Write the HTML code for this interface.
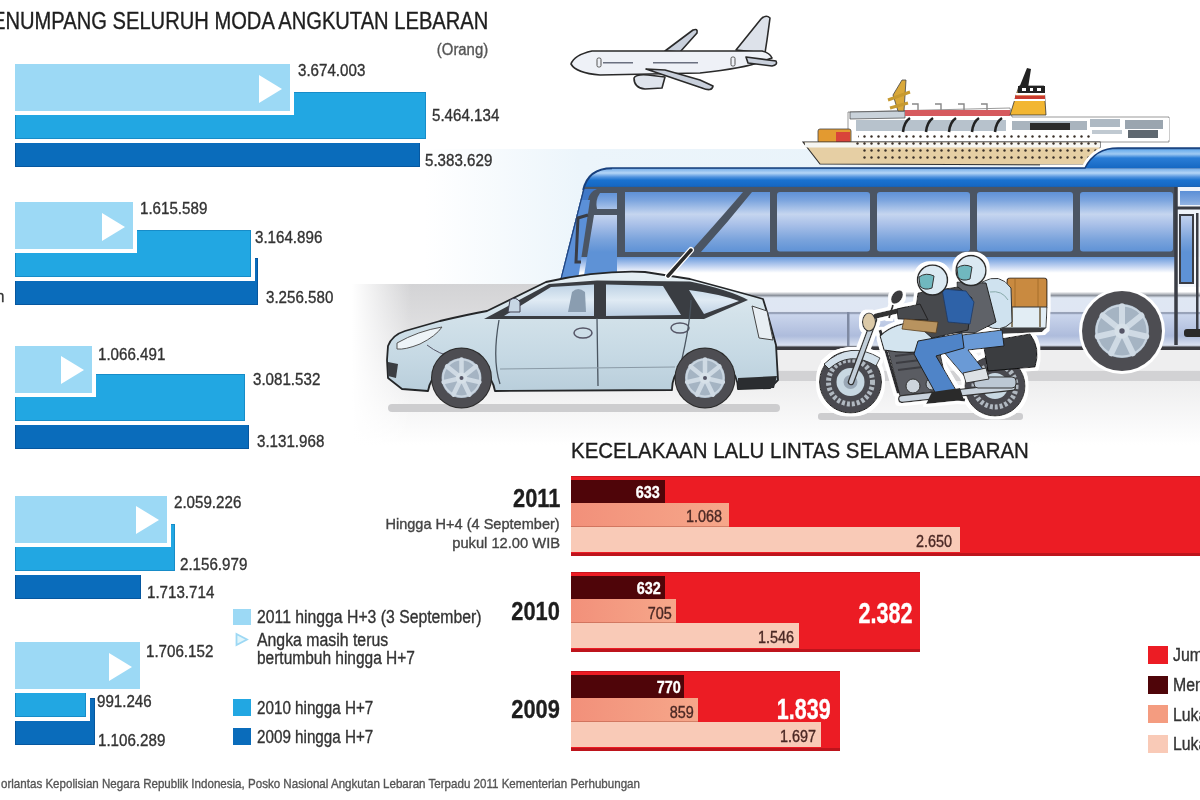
<!DOCTYPE html>
<html><head><meta charset="utf-8"><style>
html,body{margin:0;padding:0;background:#fff;width:1200px;height:800px;overflow:hidden;position:relative}
.t{position:absolute;font-family:"Liberation Sans",sans-serif;line-height:1;white-space:nowrap;-webkit-text-stroke:0.35px currentColor}
.r{position:absolute;box-sizing:content-box}
</style></head><body>
<svg style="position:absolute;left:0;top:0" width="1200" height="800" viewBox="0 0 1200 800">
<defs>
<linearGradient id="sky" x1="0" x2="1" y1="0" y2="0">
 <stop offset="0" stop-color="#ecf5fb" stop-opacity="0"/>
 <stop offset="0.2" stop-color="#ecf5fb" stop-opacity="1"/>
 <stop offset="1" stop-color="#e6f1f9"/>
</linearGradient>
<linearGradient id="roadv" gradientUnits="userSpaceOnUse" x1="0" x2="0" y1="284" y2="445">
 <stop offset="0" stop-color="#d3d3d5"/>
 <stop offset="0.5" stop-color="#e9e9ea"/>
 <stop offset="1" stop-color="#ffffff"/>
</linearGradient>
<linearGradient id="roadh" x1="0" x2="1" y1="0" y2="0">
 <stop offset="0" stop-color="#fff" stop-opacity="1"/>
 <stop offset="0.07" stop-color="#fff" stop-opacity="0"/>
</linearGradient>
<linearGradient id="roof" gradientUnits="userSpaceOnUse" x1="0" x2="0" y1="167" y2="191">
 <stop offset="0" stop-color="#17407e"/>
 <stop offset="0.09" stop-color="#7fb3ea"/>
 <stop offset="0.25" stop-color="#b5d6f7"/>
 <stop offset="0.42" stop-color="#4f92de"/>
 <stop offset="0.55" stop-color="#1a72cf"/>
 <stop offset="0.8" stop-color="#1567c2"/>
 <stop offset="0.88" stop-color="#2e4a6e"/>
 <stop offset="1" stop-color="#4b5563"/>
</linearGradient>
<linearGradient id="bump" gradientUnits="userSpaceOnUse" x1="0" x2="0" y1="148" y2="168">
 <stop offset="0" stop-color="#17407e"/>
 <stop offset="0.1" stop-color="#6fb0ee"/>
 <stop offset="0.3" stop-color="#9fcaf3"/>
 <stop offset="0.5" stop-color="#2a7dd6"/>
 <stop offset="1" stop-color="#1668c3"/>
</linearGradient>
<linearGradient id="win" gradientUnits="userSpaceOnUse" x1="0" x2="0" y1="191" y2="252">
 <stop offset="0" stop-color="#5b8fd6"/>
 <stop offset="0.15" stop-color="#7ba4de"/>
 <stop offset="0.38" stop-color="#c5d5ef"/>
 <stop offset="0.55" stop-color="#a9c0e8"/>
 <stop offset="0.8" stop-color="#7aa3dc"/>
 <stop offset="1" stop-color="#5e92d6"/>
</linearGradient>
<linearGradient id="body" gradientUnits="userSpaceOnUse" x1="0" x2="0" y1="256" y2="350">
 <stop offset="0" stop-color="#5f94da"/>
 <stop offset="0.1" stop-color="#b8cdef"/>
 <stop offset="0.18" stop-color="#ffffff"/>
 <stop offset="0.38" stop-color="#ffffff"/>
 <stop offset="0.42" stop-color="#8c929c"/>
 <stop offset="0.445" stop-color="#dfe7f3"/>
 <stop offset="0.59" stop-color="#dfe6f3"/>
 <stop offset="0.605" stop-color="#7f8aa2"/>
 <stop offset="0.625" stop-color="#cad5ec"/>
 <stop offset="0.85" stop-color="#aebcdc"/>
 <stop offset="0.95" stop-color="#d9e1f0"/>
 <stop offset="0.97" stop-color="#3b3b40"/>
 <stop offset="1" stop-color="#3b3b40"/>
</linearGradient>
<linearGradient id="carb" gradientUnits="userSpaceOnUse" x1="0" x2="0" y1="272" y2="392">
 <stop offset="0" stop-color="#e6eff4"/>
 <stop offset="0.35" stop-color="#d3e2ea"/>
 <stop offset="0.7" stop-color="#c6d9e4"/>
 <stop offset="1" stop-color="#b9cedb"/>
</linearGradient>
<linearGradient id="carw" gradientUnits="userSpaceOnUse" x1="0" x2="0" y1="282" y2="318">
 <stop offset="0" stop-color="#b8cee2"/>
 <stop offset="0.5" stop-color="#e0ebf4"/>
 <stop offset="1" stop-color="#b7cbe0"/>
</linearGradient>
<radialGradient id="rim" cx="0.5" cy="0.5" r="0.5">
 <stop offset="0" stop-color="#dfe8f0"/>
 <stop offset="1" stop-color="#b3c3d2"/>
</radialGradient>
<clipPath id="busclip"><path d="M555,300 L583,190 Q588,168 612,168 L1085,168 Q1095,148 1118,148 L1200,148 L1200,350 L555,350 Z"/></clipPath>
<filter id="wout" x="-10%" y="-10%" width="120%" height="120%">
 <feMorphology in="SourceAlpha" operator="dilate" radius="3" result="d"/>
 <feFlood flood-color="#ffffff"/>
 <feComposite in2="d" operator="in" result="w"/>
 <feMerge><feMergeNode in="w"/><feMergeNode in="SourceGraphic"/></feMerge>
</filter>
<pattern id="dots" patternUnits="userSpaceOnUse" width="7" height="7" x="0" y="0">
 <circle cx="3.5" cy="3.5" r="1.2" fill="#3a3028"/>
</pattern>
</defs>

<!-- sky band -->
<rect x="425" y="149" width="775" height="137" fill="url(#sky)"/>
<!-- road band -->
<rect x="352" y="284" width="848" height="162" fill="url(#roadv)"/>
<rect x="352" y="284" width="848" height="162" fill="url(#roadh)"/>
<rect x="770" y="350" width="430" height="20" fill="#eeeeef"/>
<rect x="770" y="371" width="430" height="10" fill="#d2d2d4"/>

<!-- PLANE -->
<g stroke="#2a2a2a" stroke-width="1.6" stroke-linejoin="round">
 <path d="M665,51 L693,30 Q698,28 697,33 L680,52 Z" fill="#c9d0dc"/>
 <path d="M736,50 L761,19 Q766,14 770,18 L767,40 L765,53 Z" fill="#dde2ea"/>
 <path d="M571,64 Q574,55 592,51 L762,51 Q770,53 772,58 L760,62 Q745,68 700,73 L600,75 Q576,73 571,64 Z" fill="#eef1f7"/>
 <path d="M746,57 L776,61 Q778,65 772,66 L748,63 Z" fill="#c9d0dc"/>
 <path d="M634,78 Q636,74 648,75 L665,77 L662,88 L645,89 Q634,88 634,78 Z" fill="#dfe4ec"/>
 <path d="M646,69 L702,88 Q712,92 713,86 L700,80 L665,70 Z" fill="#c9d0dc"/>
</g>
<g fill="#6a7080">
 <rect x="597" y="58" width="4" height="9" rx="1.5" fill="none" stroke="#555" stroke-width="1"/>
 <rect x="603" y="62" width="30" height="1.5"/>
 <rect x="653" y="62" width="45" height="1.5"/>
 <rect x="731" y="57" width="4" height="9" rx="1.5" fill="none" stroke="#555" stroke-width="1"/>
</g>

<!-- SHIP -->
<g>
 <path d="M848,112 L1010,108 L1012,117 L1169,117 L1169,142 L848,142 Z" fill="#ffffff" stroke="#555" stroke-width="0.6"/>
 <path d="M850,112 L905,111 L905,118 L850,119 Z" fill="#c9d2da" stroke="#444" stroke-width="0.7"/>
 <rect x="905" y="110" width="105" height="6" fill="#d65a5e"/>
 <path d="M912,104 l6,0 l0,6 M935,104 l6,0 l0,6 M958,104 l6,0 l0,6 M981,104 l6,0 l0,6" stroke="#888" stroke-width="1.4" fill="none"/>
 <rect x="856" y="120" width="150" height="11" fill="#b7c2cc"/>
 <rect x="1012" y="121" width="75" height="9" fill="#a9b4be"/>
 <rect x="1030" y="123" width="40" height="7" fill="#2c2c2c"/>
 <rect x="1088" y="118" width="81" height="22" fill="#ffffff"/>
 <rect x="1090" y="119" width="30" height="8" fill="#aeb9c3"/>
 <rect x="1125" y="120" width="38" height="9" fill="#9aa5af"/>
 <rect x="1128" y="130" width="30" height="8" fill="#5f6870"/>
 <rect x="1092" y="130" width="30" height="4" fill="#c0c9d1"/>
 <path d="M910,118 q-6,4 -7,14 M933,118 q-6,4 -7,14 M956,118 q-6,4 -7,14 M979,118 q-6,4 -7,14 M1002,118 q-6,4 -7,14" stroke="#222" stroke-width="2.6" fill="none"/>
 <rect x="858" y="133" width="232" height="6" fill="url(#dots)"/>
 <path d="M1010,115 L1019,86 L1044,86 L1046,115 Z" fill="#f2b632" stroke="#333" stroke-width="0.8"/>
 <path d="M1019,88 L1027,68 L1031,69 L1028,88 Z" fill="#222"/>
 <rect x="1018" y="86" width="27" height="7" fill="#222"/>
 <rect x="1022" y="88" width="4" height="3" fill="#fff"/><rect x="1030" y="88" width="3" height="3" fill="#fff"/><rect x="1037" y="88" width="4" height="3" fill="#fff"/>
 <rect x="1016" y="93" width="29" height="2.5" fill="#ffffff"/>
 <rect x="1015" y="95.5" width="30" height="3.5" fill="#c93a2e"/>
 <rect x="1014" y="99" width="31" height="2" fill="#ffffff"/>
 <path d="M893,95 L902,80 L906,80 L904,111 L898,111 Z" fill="#d9a83a" stroke="#444" stroke-width="0.8"/><path d="M888,100 L910,92 M890,108 L908,103" stroke="#c79a30" stroke-width="3"/>
 <rect x="818" y="129" width="33" height="14" rx="2" fill="#e39a30" stroke="#444" stroke-width="0.8"/>
 <rect x="836" y="132" width="14" height="10" fill="#d9433a"/>
 <path d="M803,142 L1100,142 L1100,165 L820,164 Z" fill="#e6cfa4" stroke="#2f2f2f" stroke-width="1.1"/>
 <rect x="805" y="142.5" width="295" height="5" fill="#f6f6f2"/>
 <rect x="855" y="140" width="245" height="7" fill="url(#dots)"/>
 <rect x="862" y="147" width="238" height="14" fill="url(#dots)"/>
</g>
<!-- BUS -->
<path d="M1040,168 L1085,168 Q1095,148 1118,148 L1200,148" fill="none" stroke="#fff" stroke-width="7"/>
<g clip-path="url(#busclip)">
 <rect x="555" y="256" width="650" height="95" fill="url(#body)"/>
 <rect x="555" y="140" width="650" height="51" fill="url(#roof)"/>
 <path d="M1085,168 Q1095,148 1118,148 L1200,148 L1200,168 Z" fill="url(#bump)"/>
 <rect x="555" y="187" width="650" height="70" fill="#4b5563"/>
 <path d="M555,300 L583,189 L597,189 Q589,192 588,200 L571,300 Z" fill="#3f78c8"/>
 <path d="M555,300 L578,200 L590,200 L575,300 Z" fill="#5b90d8"/>
 <!-- windows -->
 <path d="M600,193 L617,193 L617,209 L597,209 Q595,200 600,193 Z" fill="url(#win)"/>
 <path d="M594,215 L617,215 L617,300 L580,300 Z" fill="url(#win)"/>
 <path d="M625,192 L743,192 Q712,228 690,252 L625,252 Z" fill="url(#win)"/>
 <path d="M752,192 L770,192 L770,252 L701,252 Q728,222 752,192 Z" fill="url(#win)"/>
 <rect x="777" y="192" width="93" height="59.5" rx="3" fill="url(#win)"/>
 <rect x="877" y="192" width="93" height="59.5" rx="3" fill="url(#win)"/>
 <rect x="977" y="192" width="96" height="59.5" rx="3" fill="url(#win)"/>
 <rect x="1080" y="192" width="93" height="59.5" rx="3" fill="url(#win)"/>
 <rect x="1176" y="187" width="30" height="160" fill="url(#body)"/>
 <rect x="1176" y="257" width="30" height="90" fill="url(#body)"/>
 <rect x="1176" y="187" width="30" height="70" fill="#eef3fa"/>
 <rect x="1176" y="257" width="30" height="30" fill="#f4f7fb"/>
 <rect x="1180" y="191" width="25" height="14" fill="url(#win)"/>
 <rect x="1180" y="215" width="13" height="68" fill="url(#win)" stroke="#3a3d45" stroke-width="2"/>
 <rect x="1196" y="213" width="2.5" height="120" fill="#3a3d45"/>
 <path d="M1176,187 L1176,345" stroke="#3a3d45" stroke-width="3.5"/>
 <path d="M1176,208 L1200,208" stroke="#3a3d45" stroke-width="3"/>
 <rect x="1184" y="329" width="18" height="8" rx="3" fill="#2a2a2a"/>
 <rect x="847" y="312" width="2.5" height="34" fill="#7f8aa2"/>
 <path d="M555,300 L583,190 Q588,168 612,168" fill="none" stroke="#22457f" stroke-width="2.5"/>
 <path d="M588,215 L578,218 L576,262 L581,262" fill="none" stroke="#3a3d45" stroke-width="3"/>
</g>
<path d="M583,190 Q588,168 612,168 L1085,168 Q1095,148 1118,148 L1200,148" fill="none" stroke="#17407e" stroke-width="1.6"/>
<!-- bus wheel -->
<g transform="translate(1122,331)">
 <circle r="43" fill="#fff"/>
 <circle r="40" fill="#4d4d52"/>
 <circle r="27" fill="#a5b4c3"/>
 <circle r="25.5" fill="none" stroke="#c9d5e0" stroke-width="2"/>
 <path d="M0,0 L0.0,-24.8 M0,0 L19.4,-15.5 M0,0 L24.2,5.5 M0,0 L10.8,22.4 M0,0 L-10.8,22.4 M0,0 L-24.2,5.5 M0,0 L-19.4,-15.5 " stroke="#cfdae4" stroke-width="6" stroke-linecap="round"/>
 <circle r="7.6" fill="#d6e0e8"/>
 <circle r="2.7" fill="#556"/>
</g>
<!-- CAR -->
<rect x="388" y="404" width="392" height="8" rx="4" fill="#cdcdcf"/>
<g stroke="#242628" stroke-width="1.8" stroke-linejoin="round">
 <path d="M387,360 L388,346 Q392,335 405,331 L440,321 Q470,314 487,311 L546,282 Q600,270 645,272 L690,279 Q735,291 763,299 L767,312 L776,345 L778,380 L770,388 L738,389 A33,33 0 0 0 672,390 L495,391 A34,34 0 0 0 428,391 L402,389 L388,378 Z" fill="url(#carb)"/>
</g>
<g>
 <path d="M484,319 L549,284 L597,280.5 L690,281.5 Q730,290 748,300 L704,319 Z" fill="#3a3d42"/>
 <path d="M504,316 L551,287 L594,284.5 L594,316 Z" fill="url(#carw)"/>
 <path d="M606,284.5 L663,286 L681,315 L606,316 Z" fill="url(#carw)"/>
 <path d="M689,290 Q720,294 739,301 L704,314 Z" fill="url(#carw)"/>
 <path d="M572,292 Q578,286 585,292 L586,312 L568,312 Z" fill="#8a9db0"/>
 <path d="M510,300 Q516,296 520,302 L520,312 L508,312 Z" fill="#c7d6e4" stroke="#445" stroke-width="1"/>
 <ellipse cx="583" cy="333" rx="9" ry="5" fill="none" stroke="#556" stroke-width="1.5"/>
 <ellipse cx="680" cy="328" rx="9" ry="5" fill="none" stroke="#556" stroke-width="1.5"/>
 <path d="M499,320 Q492,360 500,384 M597,318 L598,386 M691,300 Q690,330 676,383" fill="none" stroke="#4a5560" stroke-width="1.3"/>
 <path d="M500,369 L675,367" stroke="#8a9aa6" stroke-width="1" fill="none"/>
 <path d="M397,343 Q418,331 442,327 Q436,336 420,344 Q405,350 397,349 Z" fill="#eef4f8" stroke="#555" stroke-width="1"/>
 <path d="M427,345 Q440,355 452,356" fill="none" stroke="#556" stroke-width="1"/>
 <path d="M752,306 L767,311 L773,340 L759,338 Z" fill="#e8eef3" stroke="#444" stroke-width="1"/>
 <path d="M738,378 L777,376 L774,388 L738,389 Z" fill="#2b2d30"/>
 <path d="M388,362 L398,364 L396,378 L388,376 Z" fill="#3a3d42"/>
 <path d="M668,276 L691,250" stroke="#fff" stroke-width="6" stroke-linecap="round"/>
 <path d="M668,276 L691,250" stroke="#2a2a2a" stroke-width="3.5" stroke-linecap="round"/>
</g>
<g transform="translate(461.5,378)">
 <circle r="30.5" fill="#2a2a2a"/>
 <circle r="29.5" fill="#4d4d52"/>
 <circle r="20" fill="#a5b4c3"/>
 <circle r="18.5" fill="none" stroke="#c9d5e0" stroke-width="2"/>
 <path d="M0,0 L0.0,-18.4 M0,0 L14.4,-11.5 M0,0 L17.9,4.1 M0,0 L8.0,16.6 M0,0 L-8.0,16.6 M0,0 L-17.9,4.1 M0,0 L-14.4,-11.5 " stroke="#cfdae4" stroke-width="4.5" stroke-linecap="round"/>
 <circle r="5.6" fill="#d6e0e8"/>
 <circle r="2.0" fill="#556"/>
</g>
<g transform="translate(705,378)">
 <circle r="30.5" fill="#2a2a2a"/>
 <circle r="29.5" fill="#4d4d52"/>
 <circle r="20" fill="#a5b4c3"/>
 <circle r="18.5" fill="none" stroke="#c9d5e0" stroke-width="2"/>
 <path d="M0,0 L0.0,-18.4 M0,0 L14.4,-11.5 M0,0 L17.9,4.1 M0,0 L8.0,16.6 M0,0 L-8.0,16.6 M0,0 L-17.9,4.1 M0,0 L-14.4,-11.5 " stroke="#cfdae4" stroke-width="4.5" stroke-linecap="round"/>
 <circle r="5.6" fill="#d6e0e8"/>
 <circle r="2.0" fill="#556"/>
</g>

<!-- MOTORCYCLE -->
<rect x="818" y="413" width="205" height="7" rx="3" fill="#cdcdcf"/>
<g filter="url(#wout)">
 <!-- wheels -->
 <circle cx="850.5" cy="382" r="31" fill="#4a4a50" stroke="#222" stroke-width="1"/>
 <circle cx="850.5" cy="382" r="22" fill="none" stroke="#b0b8c0" stroke-width="5" stroke-dasharray="3 2"/>
 <circle cx="850.5" cy="382" r="14" fill="#c8d8e2"/>
 <circle cx="850.5" cy="382" r="7" fill="#9aa8b6"/>
 <circle cx="995" cy="386" r="30" fill="#4a4a50" stroke="#222" stroke-width="1"/>
 <circle cx="995" cy="386" r="21" fill="none" stroke="#b0b8c0" stroke-width="5" stroke-dasharray="3 2"/>
 <circle cx="995" cy="386" r="13" fill="#c8d8e2"/>
 <!-- front fender -->
 <path d="M824,364 Q850,340 880,358 L876,366 Q850,350 829,369 Z" fill="#d3e0ea" stroke="#333" stroke-width="1"/>
 <!-- fork -->
 <path d="M851,382 L874,320" stroke="#333" stroke-width="6.5" stroke-linecap="round"/>
 <path d="M851,382 L874,320" stroke="#c3cfda" stroke-width="4" stroke-linecap="round"/>
 <!-- frame -->
 <path d="M880,330 L898,392 L965,400 M940,348 L990,386 M960,345 L1010,340" stroke="#2e2e30" stroke-width="3" fill="none"/>
 <!-- engine -->
 <path d="M888,350 L938,344 L948,390 L900,396 Z" fill="#5a5c62" stroke="#222" stroke-width="1"/>
 <path d="M895,356 L935,351 M896,363 L937,358 M898,370 L939,365" stroke="#3c3d42" stroke-width="2"/>
 <circle cx="913" cy="386" r="7" fill="#ccd4dc" stroke="#333" stroke-width="1"/>
 <circle cx="932" cy="384" r="6" fill="#b8c2cc" stroke="#333" stroke-width="1"/>
 <!-- exhaust -->
 <path d="M902,399 L1012,387" stroke="#333" stroke-width="8" stroke-linecap="round"/>
 <path d="M902,399 L1012,387" stroke="#c8d2dc" stroke-width="5.5" stroke-linecap="round"/>
 <rect x="974" y="377" width="42" height="11" rx="4" fill="#bcc8d4" stroke="#333" stroke-width="1"/>
 <!-- side case -->
 <path d="M983,342 L1030,334 Q1041,348 1035,367 L988,371 Z" fill="#3a3c41" stroke="#111" stroke-width="1"/>
 <!-- rack / box -->
 <rect x="1007" y="278" width="40" height="31" rx="3" fill="#c98a40" stroke="#3a2a1a" stroke-width="1.2"/>
 <path d="M1015,279 L1015,308 M1038,279 L1038,308" stroke="#a66e2c" stroke-width="1"/>
 <path d="M1004,307 L1047,307 L1046,328 L1004,328 Z" fill="#e2edf4" stroke="#333" stroke-width="1"/>
 <path d="M1012,307 L1012,327 M1040,307 L1040,327" stroke="#6a5a3a" stroke-width="1.5"/>
 <path d="M1000,328 L1046,328 L1042,332 L1000,334 Z" fill="#3a3a3c"/>
 <!-- tank -->
 <path d="M880,336 Q898,318 938,323 L950,347 Q915,356 884,350 Z" fill="#d3e4ef" stroke="#222" stroke-width="1.1"/>
 <!-- headlight, bars, mirror -->
 <ellipse cx="869" cy="322" rx="6.5" ry="9" fill="#dccaa8" stroke="#333" stroke-width="1.1"/>
 <path d="M876,316 L906,309" stroke="#333" stroke-width="5" stroke-linecap="round"/>
 <path d="M893,305 L889,318" stroke="#333" stroke-width="2"/>
 <ellipse cx="897" cy="297" rx="5" ry="7.5" fill="#3a3a3e" transform="rotate(35 897 297)"/>
 <!-- rider 2 backpack -->
 <path d="M982,282 Q1000,272 1011,288 L1012,322 Q1000,334 985,325 Z" fill="#cfe2ef" stroke="#333" stroke-width="1"/>
 <path d="M990,292 Q1002,290 1008,300" stroke="#8aa" stroke-width="1" fill="none"/>
 <!-- rider 2 jacket -->
 <path d="M957,282 L986,283 L996,322 L975,333 L945,333 L938,326 L958,318 Z" fill="#5e6268" stroke="#222" stroke-width="1"/>
 <!-- rider 2 legs -->
 <path d="M1002,330 L946,337 L942,350 L966,378 L986,373 L968,350 L1004,346 Z" fill="#6a9ad6" stroke="#222" stroke-width="1"/>
 <path d="M963,373 L986,368 L989,379 L966,383 Z" fill="#dde2e6" stroke="#333" stroke-width="1"/>
 <!-- rider 1 jacket -->
 <path d="M918,293 L958,287 L972,298 L968,330 L932,338 L914,322 Z" fill="#46484d" stroke="#222" stroke-width="1"/>
 <path d="M942,289 L966,291 L974,302 L970,324 L948,322 Z" fill="#2f62a8" stroke="#1d3a66" stroke-width="0.8"/>
 <path d="M920,304 L897,309 L898,319 L928,320 Z" fill="#46484d" stroke="#222" stroke-width="1"/>
 <path d="M904,319 L938,322 L936,333 L902,329 Z" fill="#b8935f" stroke="#5a4020" stroke-width="0.8"/>
 <!-- rider 1 legs -->
 <path d="M962,333 L918,341 L914,354 L936,394 L956,390 L936,356 L964,348 Z" fill="#4f84c8" stroke="#222" stroke-width="1"/>
 <path d="M932,392 L960,388 L964,400 L926,404 Z" fill="#2a2a2a"/>
 <!-- helmets -->
 <circle cx="932.5" cy="280" r="15" fill="#dbe9f2" stroke="#2a2a2a" stroke-width="1.5"/>
 <path d="M919,277 Q926,272 934,276 L932,288 Q924,291 920,286 Z" fill="#6fb8bf" stroke="#333" stroke-width="1"/>
 <circle cx="971" cy="270.5" r="15" fill="#dbe9f2" stroke="#2a2a2a" stroke-width="1.5"/>
 <path d="M957,268 Q964,263 972,267 L970,279 Q962,282 958,277 Z" fill="#6fb8bf" stroke="#333" stroke-width="1"/>
</g>
</svg>

<div class="r" style="left:15.0px;top:120.0px;width:404.5px;height:47.0px;background:#0a6cbb;box-shadow:inset 0 0 0 1px rgba(0,50,110,.35)"></div>
<div class="r" style="left:15.0px;top:92.0px;width:411.0px;height:47.0px;background:#22a7e2;border-right:4px solid #fff;border-bottom:4px solid #fff;box-shadow:inset 0 0 0 1px rgba(0,80,140,.3)"></div>
<div class="r" style="left:15.0px;top:64.0px;width:275.0px;height:47.0px;background:#9cd9f5;border-right:4px solid #fff;border-bottom:4px solid #fff"></div>
<svg class="r" style="left:259.0px;top:74.5px" width="24" height="28"><polygon points="0,0 23,14 0,28" fill="#fff"/></svg>
<div class="r" style="left:15.0px;top:258.0px;width:243.0px;height:47.0px;background:#0a6cbb;box-shadow:inset 0 0 0 1px rgba(0,50,110,.35)"></div>
<div class="r" style="left:15.0px;top:230.0px;width:236.0px;height:47.0px;background:#22a7e2;border-right:4px solid #fff;border-bottom:4px solid #fff;box-shadow:inset 0 0 0 1px rgba(0,80,140,.3)"></div>
<div class="r" style="left:15.0px;top:202.0px;width:118.0px;height:47.0px;background:#9cd9f5;border-right:4px solid #fff;border-bottom:4px solid #fff"></div>
<svg class="r" style="left:102.0px;top:212.5px" width="24" height="28"><polygon points="0,0 23,14 0,28" fill="#fff"/></svg>
<div class="r" style="left:15.0px;top:401.5px;width:234.3px;height:47.0px;background:#0a6cbb;box-shadow:inset 0 0 0 1px rgba(0,50,110,.35)"></div>
<div class="r" style="left:15.0px;top:373.5px;width:230.0px;height:47.0px;background:#22a7e2;border-right:4px solid #fff;border-bottom:4px solid #fff;box-shadow:inset 0 0 0 1px rgba(0,80,140,.3)"></div>
<div class="r" style="left:15.0px;top:345.5px;width:77.0px;height:47.0px;background:#9cd9f5;border-right:4px solid #fff;border-bottom:4px solid #fff"></div>
<svg class="r" style="left:61.0px;top:356.0px" width="24" height="28"><polygon points="0,0 23,14 0,28" fill="#fff"/></svg>
<div class="r" style="left:15.0px;top:551.5px;width:125.8px;height:47.0px;background:#0a6cbb;box-shadow:inset 0 0 0 1px rgba(0,50,110,.35)"></div>
<div class="r" style="left:15.0px;top:523.5px;width:160.0px;height:47.0px;background:#22a7e2;border-right:4px solid #fff;border-bottom:4px solid #fff;box-shadow:inset 0 0 0 1px rgba(0,80,140,.3)"></div>
<div class="r" style="left:15.0px;top:495.5px;width:152.3px;height:47.0px;background:#9cd9f5;border-right:4px solid #fff;border-bottom:4px solid #fff"></div>
<svg class="r" style="left:136.3px;top:506.0px" width="24" height="28"><polygon points="0,0 23,14 0,28" fill="#fff"/></svg>
<div class="r" style="left:15.0px;top:698.4px;width:80.0px;height:47.0px;background:#0a6cbb;box-shadow:inset 0 0 0 1px rgba(0,50,110,.35)"></div>
<div class="r" style="left:15.0px;top:670.4px;width:71.4px;height:47.0px;background:#22a7e2;border-right:4px solid #fff;border-bottom:4px solid #fff;box-shadow:inset 0 0 0 1px rgba(0,80,140,.3)"></div>
<div class="r" style="left:15.0px;top:642.4px;width:125.0px;height:47.0px;background:#9cd9f5;border-right:4px solid #fff;border-bottom:4px solid #fff"></div>
<svg class="r" style="left:109.0px;top:652.9px" width="24" height="28"><polygon points="0,0 23,14 0,28" fill="#fff"/></svg>
<div class="t" style="left:298.0px;top:62.3px;font-size:17px;font-weight:400;color:#333;transform:scaleX(0.89);transform-origin:0 0;">3.674.003</div>
<div class="t" style="left:431.5px;top:107.1px;font-size:17px;font-weight:400;color:#333;transform:scaleX(0.89);transform-origin:0 0;">5.464.134</div>
<div class="t" style="left:425.0px;top:152.1px;font-size:17px;font-weight:400;color:#333;transform:scaleX(0.89);transform-origin:0 0;">5.383.629</div>
<div class="t" style="left:140.0px;top:199.7px;font-size:17px;font-weight:400;color:#333;transform:scaleX(0.89);transform-origin:0 0;">1.615.589</div>
<div class="t" style="left:255.0px;top:228.5px;font-size:17px;font-weight:400;color:#333;transform:scaleX(0.89);transform-origin:0 0;">3.164.896</div>
<div class="t" style="left:266.0px;top:289.1px;font-size:17px;font-weight:400;color:#333;transform:scaleX(0.89);transform-origin:0 0;">3.256.580</div>
<div class="t" style="left:98.0px;top:345.6px;font-size:17px;font-weight:400;color:#333;transform:scaleX(0.89);transform-origin:0 0;">1.066.491</div>
<div class="t" style="left:252.5px;top:371.1px;font-size:17px;font-weight:400;color:#333;transform:scaleX(0.89);transform-origin:0 0;">3.081.532</div>
<div class="t" style="left:256.8px;top:433.1px;font-size:17px;font-weight:400;color:#333;transform:scaleX(0.89);transform-origin:0 0;">3.131.968</div>
<div class="t" style="left:174.0px;top:494.3px;font-size:17px;font-weight:400;color:#333;transform:scaleX(0.89);transform-origin:0 0;">2.059.226</div>
<div class="t" style="left:180.0px;top:556.1px;font-size:17px;font-weight:400;color:#333;transform:scaleX(0.89);transform-origin:0 0;">2.156.979</div>
<div class="t" style="left:147.4px;top:584.1px;font-size:17px;font-weight:400;color:#333;transform:scaleX(0.89);transform-origin:0 0;">1.713.714</div>
<div class="t" style="left:146.0px;top:642.6px;font-size:17px;font-weight:400;color:#333;transform:scaleX(0.89);transform-origin:0 0;">1.706.152</div>
<div class="t" style="left:97.0px;top:692.6px;font-size:17px;font-weight:400;color:#333;transform:scaleX(0.89);transform-origin:0 0;">991.246</div>
<div class="t" style="left:98.4px;top:731.7px;font-size:17px;font-weight:400;color:#333;transform:scaleX(0.89);transform-origin:0 0;">1.106.289</div>
<div class="t" style="left:-4.5px;top:288.1px;font-size:17px;font-weight:400;color:#333;transform:scaleX(0.89);transform-origin:0 0;">n</div>
<div class="t" style="left:-8.4px;top:10.1px;font-size:23px;font-weight:400;color:#1e1e1e;transform:scaleX(0.876);transform-origin:0 0;">ENUMPANG SELURUH MODA ANGKUTAN LEBARAN</div>
<div class="t" style="right:712.0px;top:42.4px;font-size:16px;font-weight:400;color:#555;transform:scaleX(0.93);transform-origin:100% 0;">(Orang)</div>
<div class="r" style="left:233.0px;top:608.7px;width:18.0px;height:16.5px;background:#9cd9f5;"></div>
<div class="t" style="left:257.0px;top:607.9px;font-size:18px;font-weight:400;color:#333;transform:scaleX(0.876);transform-origin:0 0;">2011 hingga H+3 (3 September)</div>
<svg class="r" style="left:235px;top:632px" width="16" height="16"><polygon points="1.5,2 12,7.5 1.5,13" fill="#dff5fb" stroke="#9dd8f4" stroke-width="1.8"/></svg>
<div class="t" style="left:257.0px;top:631.2px;font-size:18px;font-weight:400;color:#333;transform:scaleX(0.88);transform-origin:0 0;">Angka masih terus</div>
<div class="t" style="left:257.0px;top:648.7px;font-size:18px;font-weight:400;color:#333;transform:scaleX(0.86);transform-origin:0 0;">bertumbuh hingga H+7</div>
<div class="r" style="left:233.0px;top:698.5px;width:18.0px;height:17.5px;background:#22a7e2;"></div>
<div class="t" style="left:257.0px;top:698.9px;font-size:18px;font-weight:400;color:#333;transform:scaleX(0.845);transform-origin:0 0;">2010 hingga H+7</div>
<div class="r" style="left:233.0px;top:728.0px;width:18.0px;height:17.0px;background:#0a6cbb;"></div>
<div class="t" style="left:257.0px;top:728.0px;font-size:18px;font-weight:400;color:#333;transform:scaleX(0.845);transform-origin:0 0;">2009 hingga H+7</div>
<div class="t" style="left:0.5px;top:777.0px;font-size:13px;font-weight:400;color:#555;transform:scaleX(0.89);transform-origin:0 0;">orlantas Kepolisian Negara Republik Indonesia, Posko Nasional Angkutan Lebaran Terpadu 2011 Kementerian Perhubungan</div>
<div class="t" style="left:571.0px;top:440.0px;font-size:22px;font-weight:400;color:#1e1e1e;transform:scaleX(0.93);transform-origin:0 0;">KECELAKAAN LALU LINTAS SELAMA LEBARAN</div>
<div class="r" style="left:571.0px;top:475.6px;width:629.0px;height:80.0px;background:#ec1c24;box-sizing:border-box;border-top:1.5px solid #c9161e;border-bottom:3.5px solid #bd141c"></div>
<div class="r" style="left:571.0px;top:480.0px;width:94.0px;height:22.6px;background:#4f0509;"></div>
<div class="r" style="left:571.0px;top:502.6px;width:158.0px;height:24.6px;background:linear-gradient(90deg,#f2907a,#f6a78a);box-shadow:inset 0 -1px 0 rgba(150,60,40,.35)"></div>
<div class="r" style="left:571.0px;top:527.2px;width:389.0px;height:24.8px;background:#f9cab7;"></div>
<div class="r" style="left:571.0px;top:571.7px;width:349.0px;height:80.0px;background:#ec1c24;box-sizing:border-box;border-top:1.5px solid #c9161e;border-bottom:3.5px solid #bd141c"></div>
<div class="r" style="left:571.0px;top:576.1px;width:94.0px;height:22.6px;background:#4f0509;"></div>
<div class="r" style="left:571.0px;top:598.7px;width:105.0px;height:24.6px;background:linear-gradient(90deg,#f2907a,#f6a78a);box-shadow:inset 0 -1px 0 rgba(150,60,40,.35)"></div>
<div class="r" style="left:571.0px;top:623.3px;width:228.0px;height:24.8px;background:#f9cab7;"></div>
<div class="r" style="left:571.0px;top:670.7px;width:269.0px;height:80.0px;background:#ec1c24;box-sizing:border-box;border-top:1.5px solid #c9161e;border-bottom:3.5px solid #bd141c"></div>
<div class="r" style="left:571.0px;top:675.1px;width:113.0px;height:22.6px;background:#4f0509;"></div>
<div class="r" style="left:571.0px;top:697.7px;width:127.0px;height:24.6px;background:linear-gradient(90deg,#f2907a,#f6a78a);box-shadow:inset 0 -1px 0 rgba(150,60,40,.35)"></div>
<div class="r" style="left:571.0px;top:722.3px;width:250.0px;height:24.8px;background:#f9cab7;"></div>
<div class="t" style="right:540.0px;top:484.9px;font-size:16px;font-weight:700;color:#fff;transform:scaleX(0.9);transform-origin:100% 0;">633</div>
<div class="t" style="right:478.0px;top:509.4px;font-size:16px;font-weight:400;color:#4a2824;transform:scaleX(0.9);transform-origin:100% 0;">1.068</div>
<div class="t" style="right:248.0px;top:533.9px;font-size:16px;font-weight:400;color:#4a2824;transform:scaleX(0.9);transform-origin:100% 0;">2.650</div>
<div class="t" style="right:539.5px;top:581.4px;font-size:16px;font-weight:700;color:#fff;transform:scaleX(0.9);transform-origin:100% 0;">632</div>
<div class="t" style="right:528.5px;top:605.9px;font-size:16px;font-weight:400;color:#4a2824;transform:scaleX(0.9);transform-origin:100% 0;">705</div>
<div class="t" style="right:405.6px;top:630.4px;font-size:16px;font-weight:400;color:#4a2824;transform:scaleX(0.9);transform-origin:100% 0;">1.546</div>
<div class="t" style="right:287.0px;top:599.2px;font-size:29px;font-weight:700;color:#fff;transform:scaleX(0.745);transform-origin:100% 0;">2.382</div>
<div class="t" style="right:519.3px;top:680.4px;font-size:16px;font-weight:700;color:#fff;transform:scaleX(0.9);transform-origin:100% 0;">770</div>
<div class="t" style="right:506.5px;top:704.9px;font-size:16px;font-weight:400;color:#4a2824;transform:scaleX(0.9);transform-origin:100% 0;">859</div>
<div class="t" style="right:384.4px;top:729.4px;font-size:16px;font-weight:400;color:#4a2824;transform:scaleX(0.9);transform-origin:100% 0;">1.697</div>
<div class="t" style="right:369.3px;top:694.7px;font-size:29px;font-weight:700;color:#fff;transform:scaleX(0.74);transform-origin:100% 0;">1.839</div>
<div class="t" style="right:640.0px;top:485.2px;font-size:26px;font-weight:700;color:#1e1e1e;transform:scaleX(0.84);transform-origin:100% 0;">2011</div>
<div class="t" style="right:640.0px;top:516.1px;font-size:15px;font-weight:400;color:#444;transform:scaleX(0.97);transform-origin:100% 0;">Hingga H+4 (4 September)</div>
<div class="t" style="right:640.0px;top:534.5px;font-size:15px;font-weight:400;color:#444;transform:scaleX(0.98);transform-origin:100% 0;">pukul 12.00 WIB</div>
<div class="t" style="right:640.0px;top:598.1px;font-size:26px;font-weight:700;color:#1e1e1e;transform:scaleX(0.84);transform-origin:100% 0;">2010</div>
<div class="t" style="right:640.0px;top:696.4px;font-size:26px;font-weight:700;color:#1e1e1e;transform:scaleX(0.84);transform-origin:100% 0;">2009</div>
<div class="r" style="left:1148.0px;top:645.8px;width:19.5px;height:18.0px;background:#ec1c24;"></div>
<div class="t" style="left:1173.4px;top:646.0px;font-size:18px;font-weight:400;color:#333;transform:scaleX(0.88);transform-origin:0 0;">Jumlah kecelakaan</div>
<div class="r" style="left:1148.0px;top:675.9px;width:19.5px;height:18.0px;background:#4f0509;"></div>
<div class="t" style="left:1173.4px;top:676.1px;font-size:18px;font-weight:400;color:#333;transform:scaleX(0.88);transform-origin:0 0;">Meninggal dunia</div>
<div class="r" style="left:1148.0px;top:705.2px;width:19.5px;height:18.0px;background:#f49c80;"></div>
<div class="t" style="left:1173.4px;top:705.5px;font-size:18px;font-weight:400;color:#333;transform:scaleX(0.88);transform-origin:0 0;">Luka berat</div>
<div class="r" style="left:1148.0px;top:735.0px;width:19.5px;height:18.0px;background:#f9cab7;"></div>
<div class="t" style="left:1173.4px;top:735.2px;font-size:18px;font-weight:400;color:#333;transform:scaleX(0.88);transform-origin:0 0;">Luka ringan</div>
</body></html>
